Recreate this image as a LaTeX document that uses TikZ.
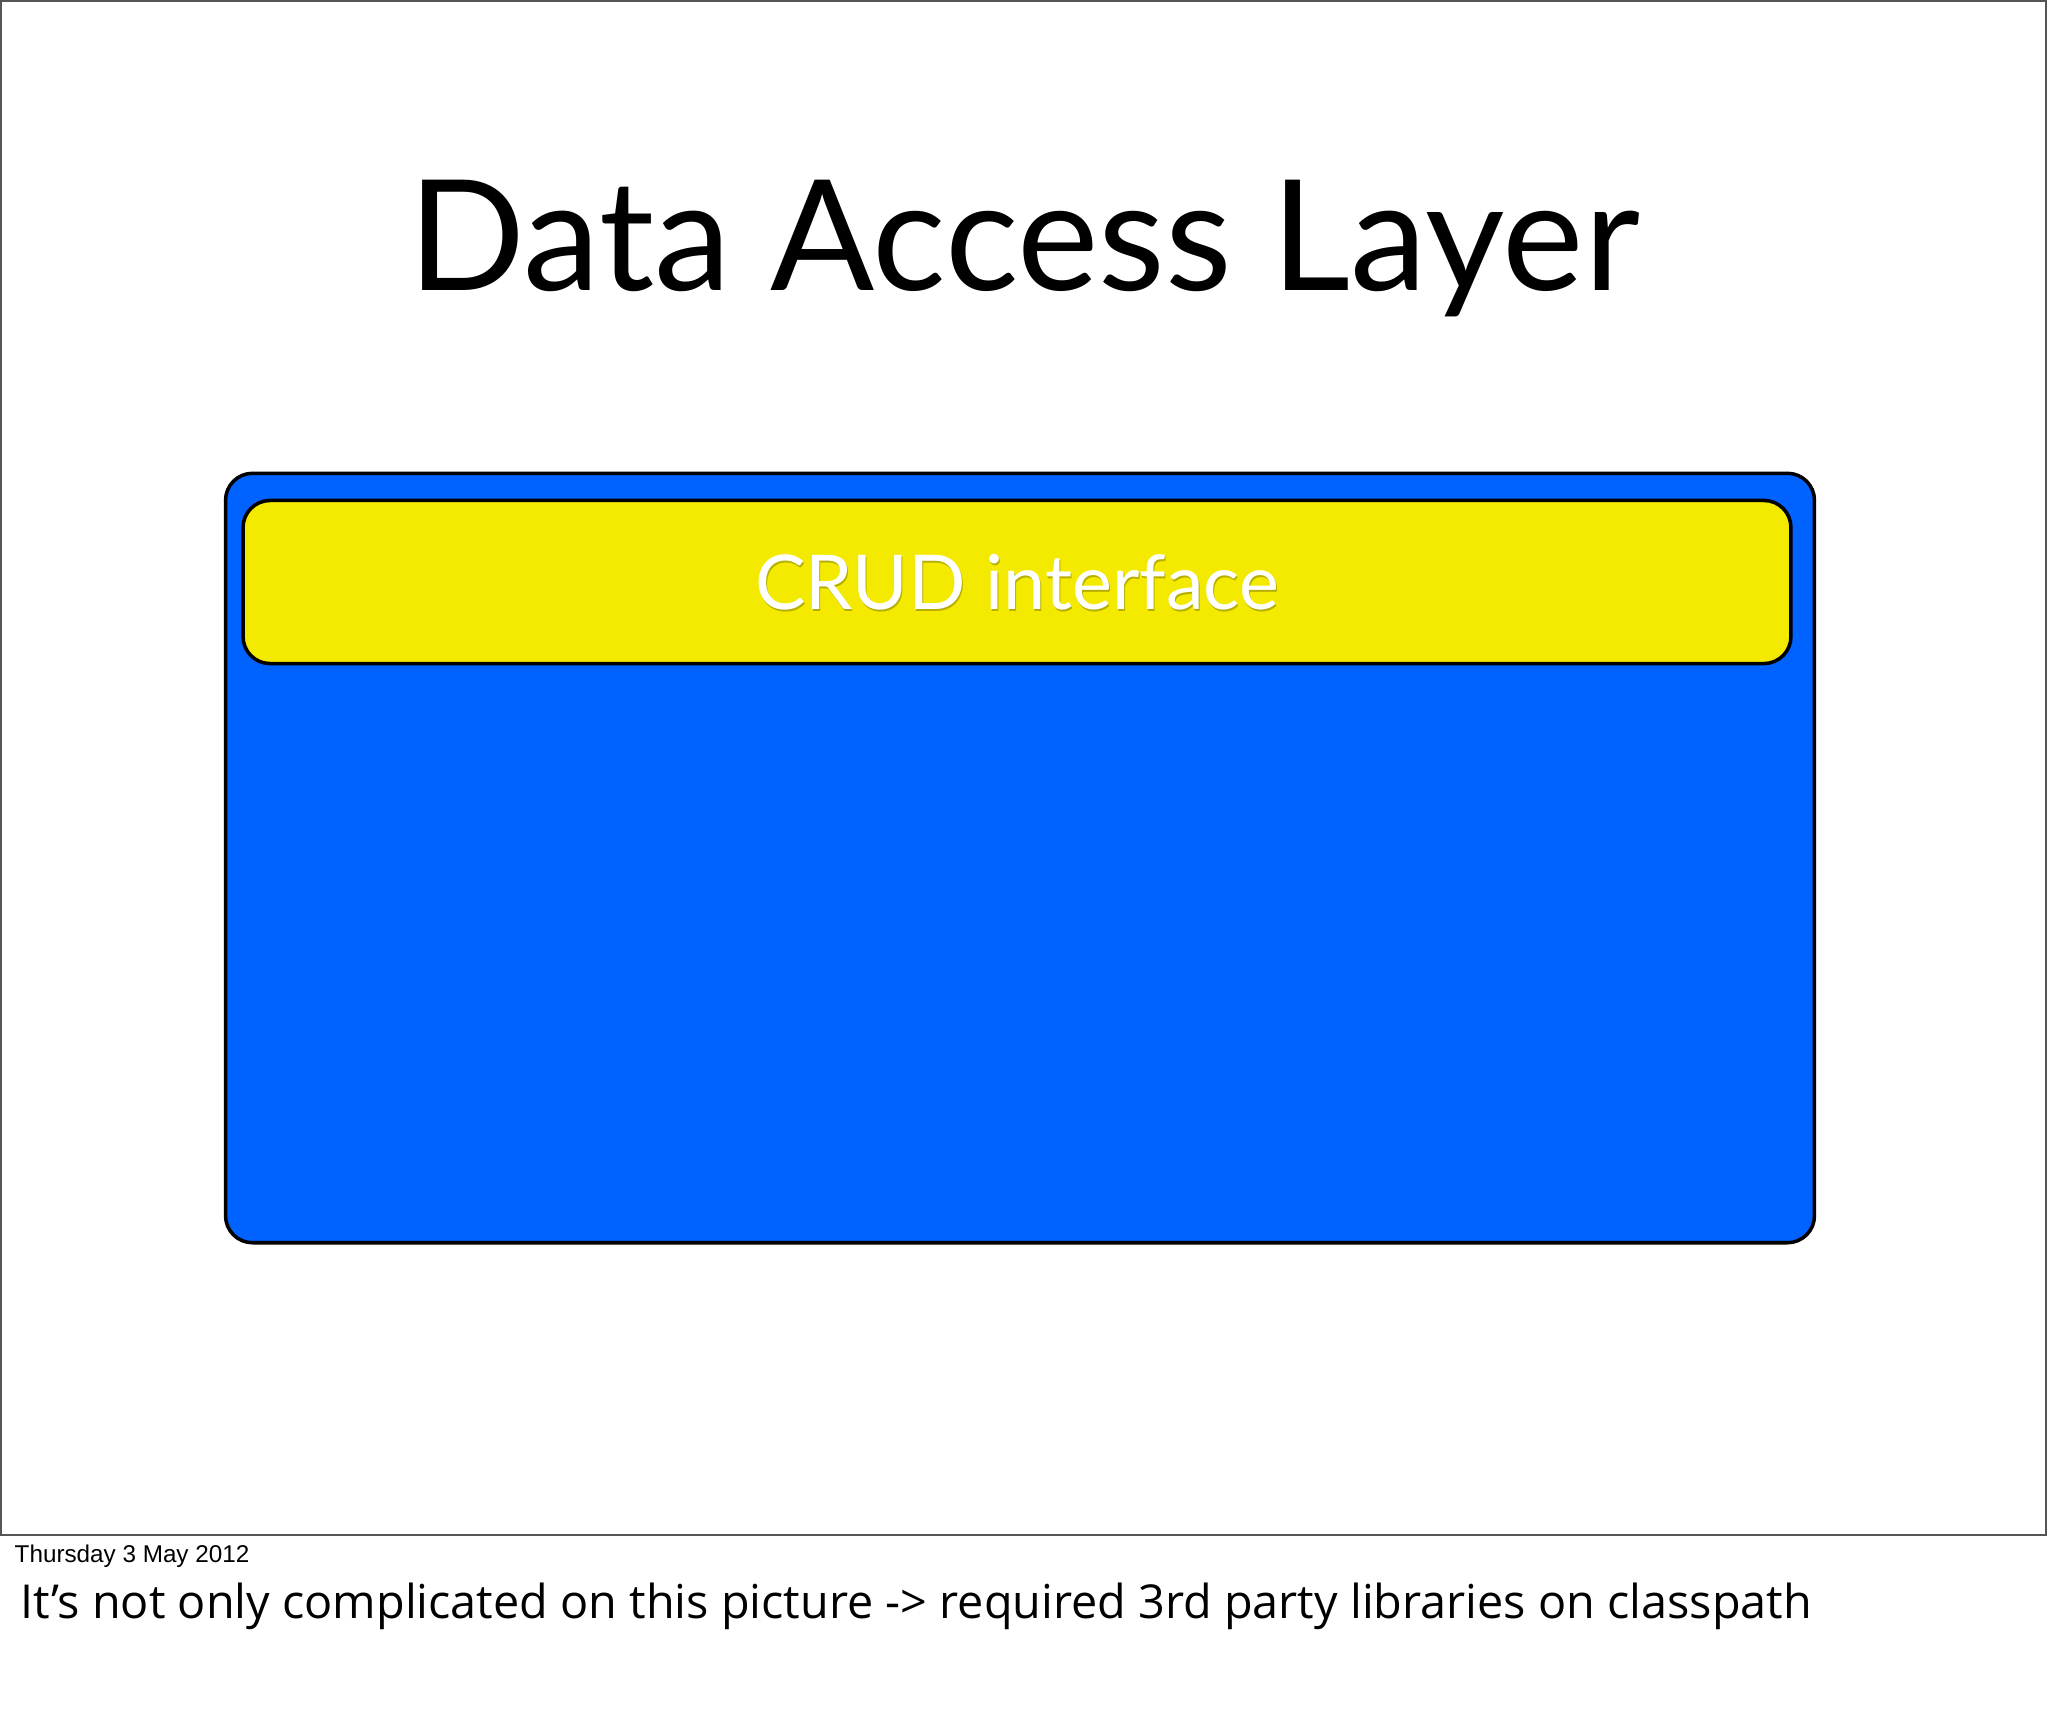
\documentclass[tikz,border=0pt]{standalone}
\usepackage{fontspec}
\setmainfont{Lato}
\newfontfamily\notefont{Open Sans}
\newfontfamily\datefont{Liberation Sans}
\definecolor{layerblue}{RGB}{0,98,255}
\definecolor{crudyellow}{RGB}{244,234,0}
\definecolor{framegray}{RGB}{85,85,85}
\begin{document}
\begin{tikzpicture}[x=0.01cm,y=-0.01cm,
  layer/.style={draw=black,line width=1pt,rounded corners=0.27cm,
    fill=layerblue,minimum width=15.88cm,minimum height=7.69cm},
  crud/.style={draw=black,line width=1pt,rounded corners=0.27cm,
    fill=crudyellow,minimum width=15.47cm,minimum height=1.63cm},
  crudtext/.style={text=white,font=\fontsize{21.5}{26}\selectfont},
  crudshadow/.style={text=black,opacity=0.25,font=\fontsize{21.5}{26}\selectfont}]
  \useasboundingbox[fill=white] (0,0) rectangle (2048,1732);
  \draw[framegray,line width=0.6pt] (1,1) rectangle (2046,1535);
  \node[anchor=base,font=\fontsize{43.8}{50}\selectfont] (title) at (1024,290) {Data Access Layer};
  \node[layer] (dal) at (1020,858) {};
  \node[crud] (crud) at (1017,582) {};
  \node[crudshadow] at ([shift={(1,2)}]crud.center) {CRUD interface};
  \node[crudtext] (crudlabel) at (crud.center) {CRUD interface};
  \node[anchor=base west,inner sep=0pt,font=\datefont\fontsize{6.9}{8}\selectfont] (date) at (14,1562) {Thursday 3 May 2012};
  \node[anchor=base west,inner sep=0pt,font=\notefont\fontsize{13.3}{15}\selectfont] (note) at (20,1618)
    {It’s not only complicated on this picture -> required 3rd party libraries on classpath};
\end{tikzpicture}
\end{document}
